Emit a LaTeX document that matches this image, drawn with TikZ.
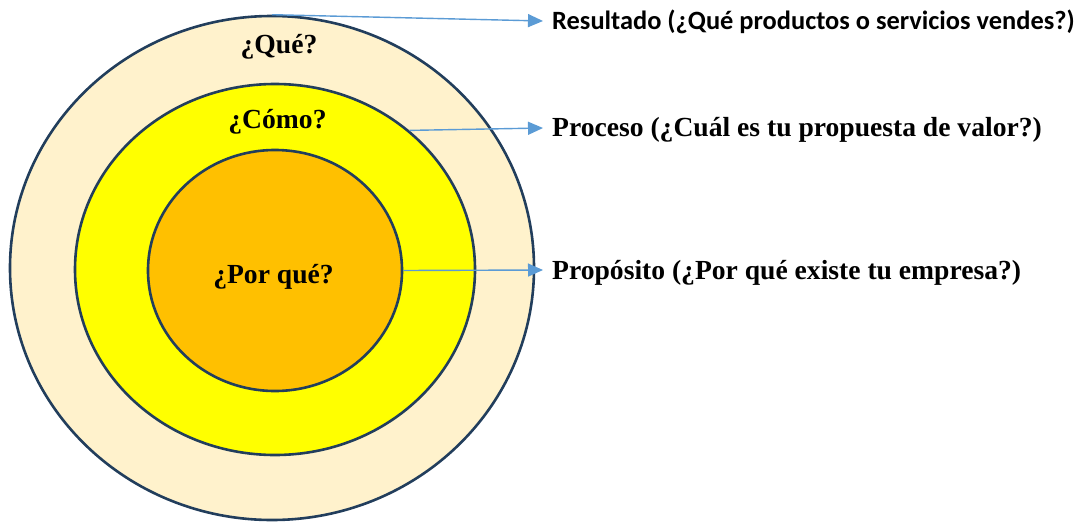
\documentclass[tikz,border=0pt]{standalone}
\usepackage{fontspec}
\setmainfont{Liberation Serif}
\newfontfamily\calib{Carlito}
\usetikzlibrary{shapes.geometric,arrows.meta}
\definecolor{outerfill}{HTML}{FFF2CC}
\definecolor{midfill}{HTML}{FFFF00}
\definecolor{innerfill}{HTML}{FFC000}
\definecolor{ringline}{HTML}{223E5C}
\definecolor{arrowblue}{HTML}{5B9BD5}
\tikzset{
  ring/.style={ellipse, draw=ringline, line width=2.6pt, inner sep=0pt},
  ringlabel/.style={font=\fontsize{27.6}{30}\selectfont\bfseries, anchor=base, inner sep=0pt},
  sidelabel/.style={font=\fontsize{27.6}{30}\selectfont\bfseries, anchor=west, inner xsep=9pt, inner ysep=0pt},
  pointer/.style={draw=arrowblue, line width=1.4pt, -{Triangle[length=15pt,width=13pt]}}
}
\begin{document}
\begin{tikzpicture}[x=1pt,y=-1pt]
\useasboundingbox (0,0) rectangle (1091,522);
\node[ring, fill=outerfill, minimum width=524pt, minimum height=504pt] (outer) at (272,268) {};
\node[ring, fill=midfill, minimum width=400pt, minimum height=371pt] (middle) at (275,269.5) {};
\node[ring, fill=innerfill, minimum width=254pt, minimum height=241pt] (inner) at (275,270.5) {};
\node[ringlabel] (que) at (279,53) {¿Qué?};
\node[ringlabel] (como) at (277.5,128) {¿Cómo?};
\node[ringlabel] (porque) at (273.5,283) {¿Por qué?};
\node[sidelabel, font=\calib\fontsize{26.4}{30}\selectfont\bfseries] (res) at (543,22) {Resultado (¿Qué productos o servicios vendes?)};
\node[sidelabel] (proc) at (543,129.5) {Proceso (¿Cuál es tu propuesta de valor?)};
\node[sidelabel] (prop) at (543,273) {Propósito (¿Por qué existe tu empresa?)};
\draw[pointer] (outer.north) -- ([yshift=1pt]res.west);
\draw[pointer] (middle.46) -- ([yshift=1.5pt]proc.west);
\draw[pointer] (inner.east) -- ([yshift=3pt]prop.west);
\end{tikzpicture}
\end{document}
